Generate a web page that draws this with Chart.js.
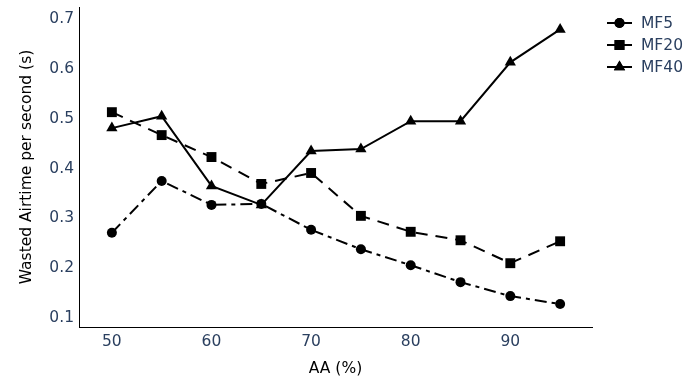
<!DOCTYPE html>
<html>
<head>
<meta charset="utf-8">
<script src="https://cdn.jsdelivr.net/npm/chart.js@4.4.1/dist/chart.umd.min.js"></script>
<style>
  html, body { margin: 0; padding: 0; background: #fff; }
  #wrap { width: 700px; height: 380px; }
</style>
</head>
<body>
<div id="wrap"><canvas id="airChart" width="700" height="380"></canvas></div>
<script>
// AA (%) on the x axis
const aaLevels = [50, 55, 60, 65, 70, 75, 80, 85, 90, 95];
const xTicks = [50, 60, 70, 80, 90];
const yTicks = [0.1, 0.2, 0.3, 0.4, 0.5, 0.6, 0.7];

// wasted airtime per second (s)
const mf5 = [0.271, 0.375, 0.327, 0.329, 0.277, 0.238, 0.206, 0.172, 0.144, 0.128];
const mf20 = [0.513, 0.467, 0.423, 0.369, 0.391, 0.305, 0.273, 0.256, 0.210, 0.254];
const mf40 = [0.481, 0.505, 0.365, 0.327, 0.435, 0.439, 0.495, 0.495, 0.613, 0.679];

const tickColor = "#2a3f5f";
const font = "'DejaVu Sans', Verdana, sans-serif";
const fontSize = 15.5;

function series(label, values, style, dash, radius) {
  return {
    label: label,
    data: aaLevels.map((x, i) => ({ x: x, y: values[i] })),
    borderColor: "#000",
    backgroundColor: "#000",
    borderWidth: 2,
    borderDash: dash,
    pointStyle: style,
    pointRadius: radius,
    pointHoverRadius: radius,
    pointBorderWidth: 0,
    fill: false,
    tension: 0,
  };
}

// legend drawn by hand: line + marker like the original
const sideLegend = {
  id: "sideLegend",
  afterDraw(chart) {
    const ctx = chart.ctx;
    chart.data.datasets.forEach((ds, i) => {
      const y = 23 + i * 22;
      ctx.save();
      ctx.strokeStyle = "#000";
      ctx.lineWidth = 2;
      ctx.setLineDash([]);
      ctx.beginPath();
      ctx.moveTo(607, y);
      ctx.lineTo(632, y);
      ctx.stroke();
      Chart.helpers.drawPoint(ctx, { pointStyle: ds.pointStyle, radius: ds.pointRadius, rotation: 0, borderWidth: 0 }, 619.5, y);
      ctx.fillStyle = "#000";
      ctx.fill();
      ctx.fillStyle = tickColor;
      ctx.font = fontSize + "px " + font;
      ctx.textBaseline = "middle";
      ctx.fillText(ds.label, 641, y + 1);
      ctx.restore();
    });
  },
};

new Chart(document.getElementById("airChart").getContext("2d"), {
  type: "line",
  data: {
    datasets: [
      series("MF5", mf5, "circle", [12, 5, 4, 5], 5),
      series("MF20", mf20, "rect", [12, 8], 7),
      series("MF40", mf40, "triangle", [], 6.5),
    ],
  },
  options: {
    responsive: false,
    animation: false,
    layout: { padding: { top: 6, right: 108, left: 16, bottom: 0 } },
    plugins: { legend: { display: false }, tooltip: { enabled: false } },
    scales: {
      x: {
        type: "linear",
        min: 46.7,
        max: 98.2,
        afterBuildTicks: (s) => { s.ticks = xTicks.map((v) => ({ value: v })); },
        afterFit: (s) => { s.height = 53; s.paddingLeft = 0; s.paddingRight = 0; },
        grid: { display: false, drawTicks: false },
        border: { display: true, color: "#000", width: 1 },
        ticks: { color: tickColor, font: { family: font, size: fontSize }, padding: 6 },
        title: { display: true, text: "AA (%)", color: "#000", font: { family: font, size: fontSize }, padding: { top: 4, bottom: 2 } },
      },
      y: {
        min: 0.082,
        max: 0.724,
        afterBuildTicks: (s) => { s.ticks = yTicks.map((v) => ({ value: v })); },
        afterFit: (s) => { s.width = 63; s.paddingTop = 0; s.paddingBottom = 0; },
        grid: { display: false, drawTicks: false },
        border: { display: true, color: "#000", width: 1 },
        ticks: { color: tickColor, font: { family: font, size: fontSize }, padding: 5, callback: (v) => v.toFixed(1) },
        title: { display: true, text: "Wasted Airtime per second (s)", color: "#000", font: { family: font, size: fontSize }, padding: { top: 2, bottom: 4 } },
      },
    },
  },
  plugins: [sideLegend],
});
</script>
</body>
</html>
